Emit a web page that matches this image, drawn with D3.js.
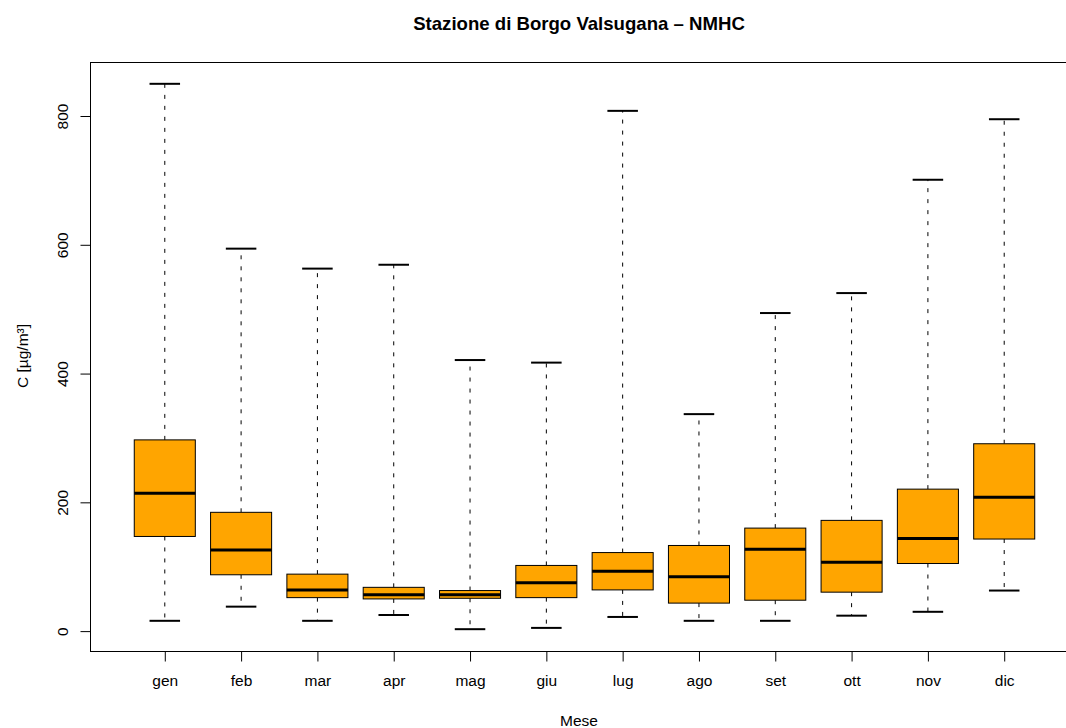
<!DOCTYPE html>
<html>
<head>
<meta charset="utf-8">
<script src="https://cdn.jsdelivr.net/npm/d3@7"></script>
<style>
  body { margin: 0; background: #fff; }
  text { font-family: "Liberation Sans", Arial, Helvetica, sans-serif; fill: #000; }
</style>
</head>
<body>
<div id="chart"></div>
<script>
// monthly NMHC box stats (ug/m3)
var months = ["gen", "feb", "mar", "apr", "mag", "giu", "lug", "ago", "set", "ott", "nov", "dic"];
var whiskerLow = [16, 38, 16, 25, 3, 5, 22, 16, 16, 24, 30, 63];
var q1 = [147, 87.5, 52, 50, 51, 52, 64, 43.5, 48, 60.5, 105, 143];
var median = [214, 126, 64, 56.5, 56.5, 75, 93, 84.5, 127, 107, 144, 208];
var q3 = [297, 184.5, 88.5, 68, 63, 102, 122, 133, 160, 172, 220.5, 291];
var whiskerHigh = [850, 594, 563, 569, 421, 417, 808, 337, 494, 525, 701, 795];
var yTicks = [0, 200, 400, 600, 800];

var svgWidth = 1066;
var svgHeight = 728;
var plot = { left: 90, right: 1079, top: 62, bottom: 651 };

var svg = d3.select("#chart")
  .append("svg")
  .attr("width", svgWidth)
  .attr("height", svgHeight);

// R style: xlim 0.5..12.5 extended 4%
var xLinearScale = d3.scaleLinear()
  .domain([0.02, 12.98])
  .range([plot.left, plot.right]);

var lo = d3.min(whiskerLow), hi = d3.max(whiskerHigh);
var pad = (hi - lo) * 0.04;
var yLinearScale = d3.scaleLinear()
  .domain([lo - pad, hi + pad])
  .range([plot.bottom, plot.top]);

var unit = xLinearScale(1) - xLinearScale(0);

var stats = months.map(function(m, i) {
  return { name: m, pos: i + 1, lo: whiskerLow[i], q1: q1[i], med: median[i], q3: q3[i], hi: whiskerHigh[i] };
});

var boxes = svg.append("g").selectAll("g").data(stats).enter().append("g");

// whiskers
boxes.append("line")
  .attr("x1", d => xLinearScale(d.pos)).attr("x2", d => xLinearScale(d.pos))
  .attr("y1", d => yLinearScale(d.q3)).attr("y2", d => yLinearScale(d.hi))
  .attr("stroke", "#000").attr("stroke-dasharray", "4,7");
boxes.append("line")
  .attr("x1", d => xLinearScale(d.pos)).attr("x2", d => xLinearScale(d.pos))
  .attr("y1", d => yLinearScale(d.q1)).attr("y2", d => yLinearScale(d.lo))
  .attr("stroke", "#000").attr("stroke-dasharray", "4,7");

// staples
boxes.selectAll(".staple").data(d => [[d.pos, d.hi], [d.pos, d.lo]]).enter()
  .append("line")
  .attr("class", "staple")
  .attr("x1", d => xLinearScale(d[0] - 0.2)).attr("x2", d => xLinearScale(d[0] + 0.2))
  .attr("y1", d => yLinearScale(d[1])).attr("y2", d => yLinearScale(d[1]))
  .attr("stroke", "#000").attr("stroke-width", 2);

// box
boxes.append("rect")
  .attr("x", d => xLinearScale(d.pos - 0.4))
  .attr("width", 0.8 * unit)
  .attr("y", d => yLinearScale(d.q3))
  .attr("height", d => yLinearScale(d.q1) - yLinearScale(d.q3))
  .attr("fill", "#FFA500")
  .attr("stroke", "#000");

// median
boxes.append("line")
  .attr("x1", d => xLinearScale(d.pos - 0.4)).attr("x2", d => xLinearScale(d.pos + 0.4))
  .attr("y1", d => yLinearScale(d.med)).attr("y2", d => yLinearScale(d.med))
  .attr("stroke", "#000").attr("stroke-width", 3);

// frame
svg.append("rect")
  .attr("x", plot.left + 0.5).attr("y", plot.top + 0.5)
  .attr("width", plot.right - plot.left).attr("height", plot.bottom - plot.top)
  .attr("fill", "none").attr("stroke", "#000");

// axes
var bottomAxis = d3.axisBottom(xLinearScale)
  .tickValues(d3.range(1, 13))
  .tickFormat(d => months[d - 1])
  .tickSize(10).tickPadding(13);
var xAxisG = svg.append("g")
  .attr("transform", `translate(0, ${plot.bottom + 0.5})`)
  .call(bottomAxis);
xAxisG.select(".domain").attr("d", `M${xLinearScale(1)},0H${xLinearScale(12)}`);
xAxisG.selectAll("text").attr("font-size", 15.5).attr("font-family", null);

var leftAxis = d3.axisLeft(yLinearScale)
  .tickValues(yTicks)
  .tickSize(10);
var yAxisG = svg.append("g")
  .attr("transform", `translate(${plot.left + 0.5}, 0)`)
  .call(leftAxis);
yAxisG.select(".domain").attr("d", `M0,${yLinearScale(0)}V${yLinearScale(800)}`);
yAxisG.selectAll(".tick text")
  .attr("font-size", 15.5).attr("font-family", null)
  .attr("x", null).attr("dy", null)
  .attr("text-anchor", "middle")
  .attr("transform", "translate(-23,0) rotate(-90)");

// titles
svg.append("text")
  .attr("x", 579).attr("y", 30)
  .attr("text-anchor", "middle")
  .attr("font-size", 18.6).attr("font-weight", "bold")
  .text("Stazione di Borgo Valsugana – NMHC");

svg.append("text")
  .attr("x", 579).attr("y", 726)
  .attr("text-anchor", "middle")
  .attr("font-size", 15.5)
  .text("Mese");

svg.append("text")
  .attr("transform", "translate(28, 356) rotate(-90)")
  .attr("text-anchor", "middle")
  .attr("font-size", 15.5)
  .text("C [µg/m³]");
</script>
</body>
</html>
